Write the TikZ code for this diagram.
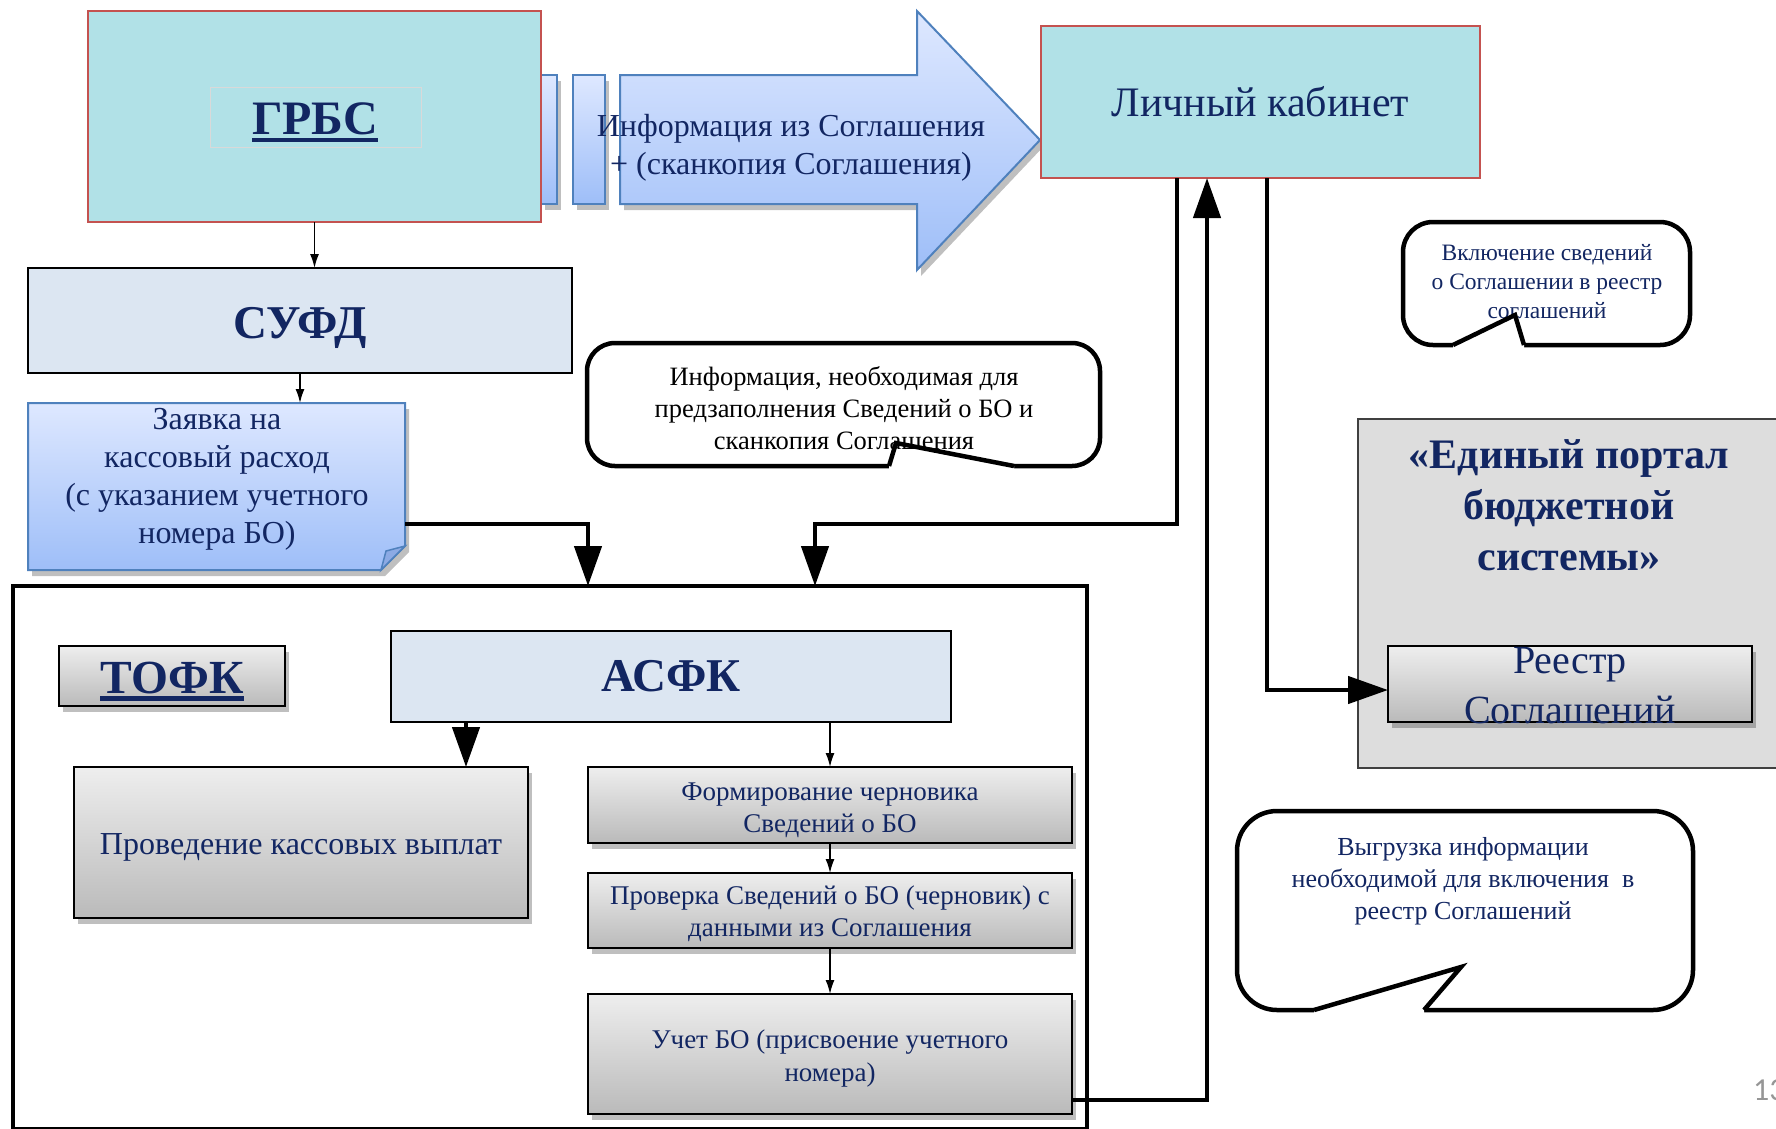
\documentclass[tikz,border=0pt]{standalone}
\usepackage{fontspec}
\setmainfont{Liberation Serif}
\newfontfamily\numfont{Carlito}
\usetikzlibrary{arrows.meta,shadows,calc}

\definecolor{txtnavy}{RGB}{18,38,98}
\definecolor{cyanfill}{RGB}{177,225,231}
\definecolor{redborder}{RGB}{196,82,80}
\definecolor{paleblue}{RGB}{220,230,242}
\definecolor{graytop}{RGB}{238,238,238}
\definecolor{graybot}{RGB}{186,186,186}
\definecolor{bluetop}{RGB}{222,232,255}
\definecolor{bluebot}{RGB}{158,190,248}
\definecolor{blueedge}{RGB}{79,129,189}
\definecolor{bluefold}{RGB}{140,170,228}
\definecolor{portalgray}{RGB}{221,221,221}
\definecolor{pagenumgray}{RGB}{150,150,150}

\newcommand{\fsz}[2]{\fontsize{#1}{#2}\selectfont}
\newcommand{\thickul}[1]{\leavevmode\setbox0=\hbox{#1}\rlap{\rule[-7.5pt]{\wd0}{4.5pt}}\box0}

\tikzset{
  every node/.style={inner sep=0pt, outer sep=0pt},
  txt/.style={text=txtnavy, align=center},
  cyanbox/.style={draw=redborder, line width=2pt, fill=cyanfill},
  palebox/.style={draw=black, line width=2pt, fill=paleblue},
  shad/.style={drop shadow={shadow xshift=4pt, shadow yshift=-6pt, opacity=0.25, fill=black}},
  graybox/.style={draw=black, line width=2pt, top color=graytop, bottom color=graybot, shad},
  bluebody/.style={top color=bluetop, bottom color=bluebot, draw=blueedge, line width=2pt},
  thinarrow/.style={line width=1.5pt, -{Latex[length=14pt,width=9pt]}},
  bigarrow/.style={line width=4.5pt, -{Triangle[length=40pt,width=27pt]}},
  bubble/.style={line width=4.5pt, draw=black, fill=white, rounded corners=#1},
  tailline/.style={line width=4.5pt, line join=miter},
}

\begin{document}
\begin{tikzpicture}[x=1pt, y=-1pt]
\useasboundingbox (0,0) rectangle (1776,1128);

% ---------- top left: GRBS and block arrow ----------
\shade[bluebody, shad] (620,75) -- (917,75) -- (917,11) -- (1040,140) -- (917,270) -- (917,204) -- (620,204) -- cycle;
\shade[bluebody, shad] (573,75) rectangle (605,204);
\shade[bluebody, shad] (541,75) rectangle (557,204);
\node[txt, font=\fsz{32}{38}] (arrtxt) at (791,147.5) {Информация из Соглашения\\+ (сканкопия Соглашения)};

\node[cyanbox, minimum width=453pt, minimum height=211pt] (grbs) at (314.5,116.5) {};
\draw[draw=black!15, line width=1pt] (210,87) rectangle (421,147);
\node[txt, anchor=base, font=\bfseries\fsz{48}{56}] (grbstxt) at (315,134.5) {\thickul{ГРБС}};

\node[cyanbox, minimum width=439pt, minimum height=152pt, txt, font=\fsz{42}{48}] (lk) at (1260.5,102) {Личный кабинет};

% ---------- SUFD and request ----------
\node[palebox, minimum width=544pt, minimum height=105pt] (sufd) at (300,320.5) {};
\node[txt, anchor=base, font=\bfseries\fsz{47}{54}] (sufdtxt) at (300,338) {СУФД};

\node[minimum width=377pt, minimum height=167pt] (zay) at (216.5,486.5) {};
\shade[bluebody, shad] (zay.north west) -- (zay.north east) -- ($(zay.south east)+(0,-24)$) -- ($(zay.south east)+(-24,0)$) -- (zay.south west) -- cycle;
\filldraw[fill=bluefold, draw=blueedge, line width=1.5pt] ($(zay.south east)+(0,-24)$) -- ($(zay.south east)+(-24,0)$) -- ($(zay.south east)+(-19,-19)$) -- cycle;
\node[txt, font=\fsz{32}{38}] (zaytxt) at (217,479.4) {Заявка на\\кассовый расход\\(с указанием учетного\\номера БО)};

\draw[thinarrow] (grbs.south) -- (grbs.south |- sufd.north);
\draw[thinarrow] (sufd.south) -- (sufd.south |- zay.north);

% ---------- callout 1 ----------
\draw[bubble=28] (587,343) rectangle (1100,466);
\fill[white] (889,472) -- (889,466) -- (896,443) -- (1014,466) -- (1014,472) -- cycle;
\node[font=\fsz{26.5}{32}, align=center] (c1txt) at (844,408) {Информация, необходимая для\\предзаполнения Сведений о БО и\\сканкопия Соглашения};
\draw[tailline] (889,466) -- (896,443) -- (1014,466);

% ---------- callout 2 ----------
\draw[bubble=30] (1403,222) rectangle (1690,345);
\fill[white] (1453,351) -- (1453,345) -- (1515,315) -- (1524,345) -- (1524,351) -- cycle;
\node[txt, font=\fsz{23.5}{29}] (c2txt) at (1547,282) {Включение сведений\\о Соглашении в реестр\\соглашений};
\draw[tailline] (1453,345) -- (1515,315) -- (1524,345);

% ---------- portal ----------
\node[draw=black!75, line width=1.5pt, fill=portalgray, minimum width=442pt, minimum height=349pt] (portal) at (1579,593.5) {};
\node[txt, font=\bfseries\fsz{42}{51}] (portaltxt) at (1569,505.6) {«Единый портал\\бюджетной\\системы»};
\node[graybox, minimum width=364pt, minimum height=76pt] (reestr) at (1570,684) {};
\node[txt, font=\fsz{40}{50}] (reestrtxt) at (1570,686) {Реестр\\Соглашений};

% ---------- callout 3 ----------
\draw[bubble=40] (1237,811) rectangle (1693,1010);
\fill[white] (1314,1016) -- (1314,1010) -- (1461,967) -- (1424,1010) -- (1424,1016) -- cycle;
\node[txt, font=\fsz{26}{32}] (c3txt) at (1463,881.3) {Выгрузка информации\\необходимой для включения~ в\\реестр Соглашений};
\draw[tailline] (1314,1010) -- (1461,967) -- (1424,1010);

% ---------- TOFK frame ----------
\node[draw=black, line width=4.5pt, minimum width=1074pt, minimum height=543.5pt] (tofkframe) at (550,857.75) {};
\coordinate (in1) at (588,586);
\coordinate (in2) at (815,586);

\node[graybox, minimum width=226pt, minimum height=60pt] (tofk) at (172,676) {};
\node[txt, anchor=base, font=\bfseries\fsz{47.5}{54}] (tofktxt) at (172,693) {\thickul{ТОФК}};
\node[palebox, line width=2.5pt, minimum width=560pt, minimum height=91pt, txt, font=\bfseries\fsz{47}{54}] (asfk) at (671,676.5) {АСФК};
\node[graybox, minimum width=454pt, minimum height=151pt] (kass) at (301,842.5) {};
\node[txt, font=\fsz{32}{38}] (kasstxt) at (301,847) {Проведение кассовых выплат};
\node[graybox, minimum width=484pt, minimum height=76pt] (form) at (830,805) {};
\node[txt, font=\fsz{27}{32}] (formtxt) at (830,810) {Формирование черновика\\Сведений о БО};
\node[graybox, minimum width=484pt, minimum height=75pt] (prover) at (830,910.5) {};
\node[txt, font=\fsz{27}{32}] (provertxt) at (830,914) {Проверка Сведений о БО (черновик) с\\данными из Соглашения};
\node[graybox, minimum width=484pt, minimum height=120pt] (uchet) at (830,1054) {};
\node[txt, font=\fsz{27}{33}] (uchettxt) at (830,1058) {Учет БО (присвоение учетного\\номера)};

% ---------- connectors ----------
\draw[bigarrow] ($(zay.east)+(0,37.5)$) -| (in1);
\draw[bigarrow] ($(lk.south west)+(136,0)$) -- ($(lk.south west)+(136,346)$) -| (in2);
\draw[bigarrow] ($(uchet.east)+(0,46)$) -| ($(lk.south west)+(166,0)$);
\draw[bigarrow] ($(lk.south west)+(226,0)$) |- ($(reestr.west)+(0,6)$);
\draw[bigarrow] ($(asfk.south west)+(75,0)$) -- ($(kass.north west)+(392,0)$);
\draw[thinarrow] ($(asfk.south west)+(439,0)$) -- (form.north);
\draw[thinarrow] (form.south) -- (prover.north);
\draw[thinarrow] (prover.south) -- (uchet.north);

% ---------- page number ----------
\node[anchor=west, text=pagenumgray, font=\numfont\fsz{32}{36}] (pnum) at (1753,1090) {13};
\end{tikzpicture}
\end{document}
